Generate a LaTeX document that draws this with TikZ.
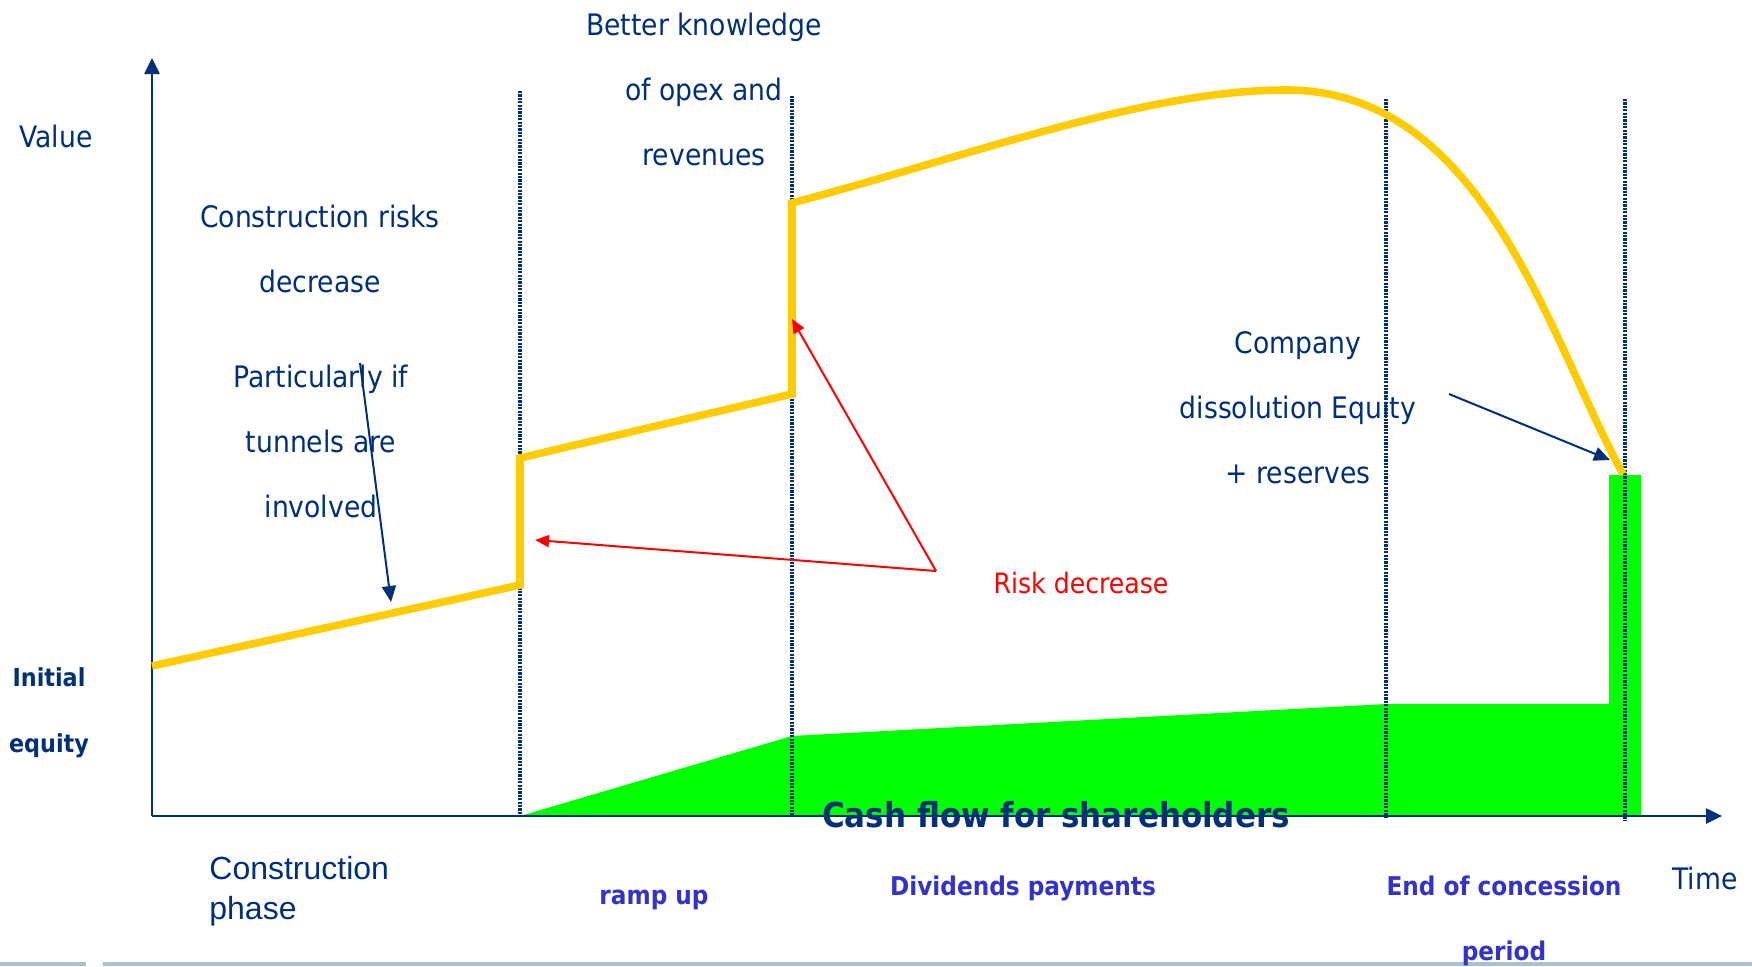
\documentclass[tikz,border=0pt]{standalone}
\usepackage{fontspec}
\setmainfont{DejaVu Sans Condensed}
\newfontfamily\arialf{Liberation Sans}
\usetikzlibrary{arrows.meta}
\definecolor{navy}{RGB}{0,48,120}
\definecolor{midblue}{RGB}{51,51,204}
\definecolor{gold}{RGB}{255,204,0}
\definecolor{lime}{RGB}{0,255,0}
\definecolor{bandc}{RGB}{169,192,211}
\definecolor{redc}{RGB}{255,0,0}
\begin{document}
\begin{tikzpicture}[x=0.5pt,y=-0.5pt,
  lbl/.style={text=navy, inner sep=0pt, align=center, font=\fontsize{14.8}{32.5}\selectfont},
  boldlbl/.style={text=navy, inner sep=0pt, align=center, font=\bfseries\fontsize{12.4}{33}\selectfont},
  phaselbl/.style={text=midblue, inner sep=0pt, align=center, font=\bfseries\fontsize{12.9}{32.5}\selectfont},
  vdots/.style={draw=navy, line width=1.6pt, dash pattern=on 1.1pt off 0.6pt},
  axisline/.style={draw=navy, line width=1.3pt, -{Triangle[length=8pt,width=7.5pt]}},
  goldline/.style={draw=gold, line width=3.8pt},
  redarrow/.style={draw=redc, line width=1pt, -{Triangle[length=7pt,width=6pt]}},
  bluearrow/.style={draw=navy, line width=1pt, -{Triangle[length=8pt,width=7pt]}}]
\useasboundingbox (0,0) rectangle (1752,966);
% bottom band
\fill[bandc] (0,962) rectangle (86,966);
\fill[bandc] (103,962) rectangle (1752,966);
% green cash flow area
\fill[lime] (520,816) -- (792,736) -- (1386,704) -- (1609,704) -- (1609,475) -- (1641,475) -- (1641,816) -- cycle;
% dotted phase separators
\coordinate (d1t) at (520,91);  \coordinate (d1b) at (520,816);
\coordinate (d2t) at (792,96);  \coordinate (d2b) at (792,816);
\coordinate (d3t) at (1386,99); \coordinate (d3b) at (1386,818);
\coordinate (d4t) at (1625,99); \coordinate (d4b) at (1625,820);
\draw[vdots] (d1t) -- (d1b);
\draw[vdots] (d2t) -- (d2b);
\draw[vdots] (d3t) -- (d3b);
\draw[vdots] (d4t) -- (d4b);
% axes
\coordinate (o) at (152,816);
\coordinate (ytop) at (152,58);
\coordinate (xend) at (1722,816);
\draw[axisline] (o) -- (ytop);
\draw[axisline] (o) -- (xend);
% value curve
\coordinate (y0) at (152,666);
\coordinate (y1) at (520,585);
\coordinate (y2) at (520,458);
\coordinate (y3) at (792,394);
\coordinate (y4) at (792,203);
\coordinate (y5) at (1286,90);
\coordinate (y6) at (1623,474);
\draw[goldline] (y0) -- (y1) -- (y2) -- (y3) -- (y4)
  .. controls (972,155) and (1146,90) .. (y5)
  .. controls (1486,90) and (1549.5,341.5) .. (y6);
% red arrows
\coordinate (rc) at (936,571);
\coordinate (rt1) at (535,540);
\coordinate (rt2) at (792,319);
\draw[redarrow] (rc) -- (rt1);
\draw[redarrow] (rc) -- (rt2);
% blue arrows
\coordinate (b1s) at (360,363);
\coordinate (b1e) at (391,602);
\coordinate (b2s) at (1449,394);
\coordinate (b2e) at (1610,460);
\draw[bluearrow] (b1s) -- (b1e);
\draw[bluearrow] (b2s) -- (b2e);
% texts
\node[lbl] (value) at (56,136) {Value};
\node[lbl] (know) at (704,89) {Better knowledge\\of opex and\\revenues};
\node[lbl] (crisk) at (320,248.5) {Construction risks\\decrease};
\node[lbl] (tunnel) at (321,441) {Particularly if\\tunnels are\\involved};
\node[lbl] (company) at (1298,408) {Company\\dissolution Equity\\+ reserves};
\node[text=redc, inner sep=0pt, font=\fontsize{14}{16}\selectfont] (risk) at (1081,583) {Risk decrease};
\node[boldlbl] (initial) at (49,713) {Initial\\equity};
\node[text=navy, inner sep=0pt, align=left, anchor=west, font=\arialf\fontsize{16}{20}\selectfont] (cphase) at (209,891) {Construction\\phase};
\node[phaselbl] (ramp) at (654,900) {ramp up};
\node[phaselbl] (div) at (1023,888) {Dividends payments};
\node[phaselbl] (endc) at (1504,920.5) {End of concession\\period};
\node[lbl] (time) at (1705,878) {Time};
\node[text=navy, inner sep=0pt, font=\bfseries\fontsize{17.2}{20}\selectfont] (cash) at (1056,815) {Cash flow for shareholders};
\end{tikzpicture}
\end{document}
